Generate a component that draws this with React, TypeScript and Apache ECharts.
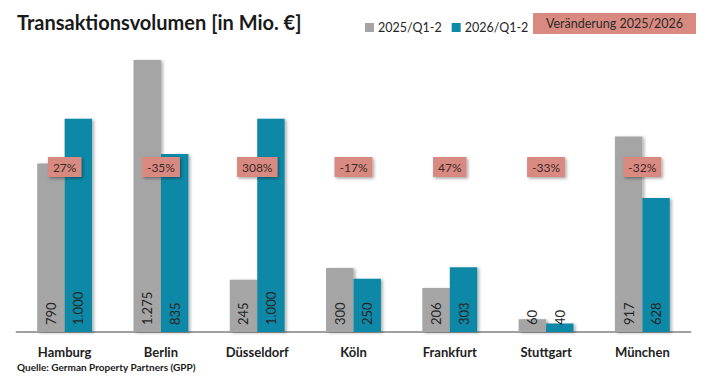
import React, { useEffect, useRef } from "react";
import * as echarts from "echarts";

// Transaction volume per city, in million euros
const categories = ["Hamburg", "Berlin", "Düsseldorf", "Köln", "Frankfurt", "Stuttgart", "München"];
const volume2025 = [790, 1275, 245, 300, 206, 60, 917];
const volume2026 = [1000, 835, 1000, 250, 303, 40, 628];
const changeLabels = ["27%", "-35%", "308%", "-17%", "47%", "-33%", "-32%"];
const seriesNames = ["2025/Q1-2", "2026/Q1-2"];

const GREY = "#a5a5a5";
const TEAL = "#0e89a7";
const PINK = "#d98a80";
const FONT = "Lato, 'Open Sans', sans-serif";

const formatDe = (v: number) => String(v).replace(/\B(?=(\d{3})+(?!\d))/g, ".");

const barLabel = {
  show: true,
  position: "insideBottom",
  rotate: 90,
  align: "left",
  verticalAlign: "middle",
  distance: 7,
  fontSize: 13,
  fontFamily: FONT,
  color: "#262626",
  formatter: (p: any) => formatDe(p.value),
};

const barShadow = {
  shadowBlur: 3,
  shadowColor: "rgba(0,0,0,0.3)",
  shadowOffsetX: 2,
  shadowOffsetY: 1,
};

export default function App() {
  const ref = useRef<HTMLDivElement>(null);

  useEffect(() => {
    if (!ref.current) return;
    const chart = echarts.init(ref.current, undefined, { renderer: "svg" });
    chart.setOption({
      animation: false,
      backgroundColor: "#ffffff",
      textStyle: { fontFamily: FONT },
      grid: { left: 16.5, right: 19.5, top: 54.7, bottom: 46 },
      legend: {
        data: seriesNames,
        left: 360,
        top: 16,
        icon: "rect",
        itemWidth: 9,
        itemHeight: 9,
        itemGap: 10,
        textStyle: { fontSize: 12.5, color: "#262626", fontFamily: FONT, padding: [0, 0, 0, -1] },
      },
      xAxis: {
        type: "category",
        data: categories,
        axisTick: { show: false },
        axisLine: { lineStyle: { color: "#a0a0a0", width: 2 } },
        axisLabel: { margin: 13, fontSize: 13, fontWeight: "bold", color: "#222", fontFamily: FONT },
      },
      yAxis: {
        type: "value",
        min: 0,
        max: 1300,
        show: false,
        splitLine: { show: false },
      },
      series: [
        {
          name: seriesNames[0],
          type: "bar",
          data: volume2025,
          barGap: "0%",
          barCategoryGap: "43%",
          itemStyle: { color: GREY, ...barShadow },
          label: barLabel,
        },
        {
          name: seriesNames[1],
          type: "bar",
          data: volume2026,
          itemStyle: { color: TEAL, ...barShadow },
          label: barLabel,
        },
        {
          type: "custom",
          z: 10,
          data: categories.map((_, i) => [i, 0]),
          encode: { x: 0, y: 1 },
          renderItem: (params: any, api: any) => {
            const x = api.coord([api.value(0), 0])[0];
            return {
              type: "text",
              x,
              y: 167,
              style: {
                text: changeLabels[params.dataIndex],
                align: "center",
                verticalAlign: "middle",
                fill: "#3b2b29",
                font: `12px ${FONT}`,
                backgroundColor: PINK,
                padding: [4, 5, 4, 5],
                shadowBlur: 3,
                shadowColor: "rgba(0,0,0,0.35)",
                shadowOffsetX: 1.5,
                shadowOffsetY: 1.5,
              },
            };
          },
        },
      ],
      graphic: [
        {
          type: "text",
          left: 17,
          top: 12,
          style: {
            text: "Transaktionsvolumen [in Mio. €]",
            font: `bold 20px ${FONT}`,
            fill: "#1a1a1a",
          },
        },
        {
          type: "group",
          left: 533,
          top: 13,
          children: [
            { type: "rect", shape: { x: 0, y: 0, width: 163, height: 21 }, style: { fill: PINK } },
            {
              type: "text",
              x: 81.5,
              y: 10.5,
              style: {
                text: "Veränderung 2025/2026",
                align: "center",
                verticalAlign: "middle",
                font: `12.5px ${FONT}`,
                fill: "#2a2a2a",
              },
            },
          ],
        },
        {
          type: "text",
          left: 17,
          top: 362,
          style: {
            text: "Quelle: German Property Partners (GPP)",
            font: `bold 10px ${FONT}`,
            fill: "#1a1a1a",
          },
        },
      ],
    });
    return () => chart.dispose();
  }, []);

  return (
    <div
      ref={ref}
      style={{ position: "fixed", left: 0, top: 0, width: 710, height: 378 }}
    />
  );
}
